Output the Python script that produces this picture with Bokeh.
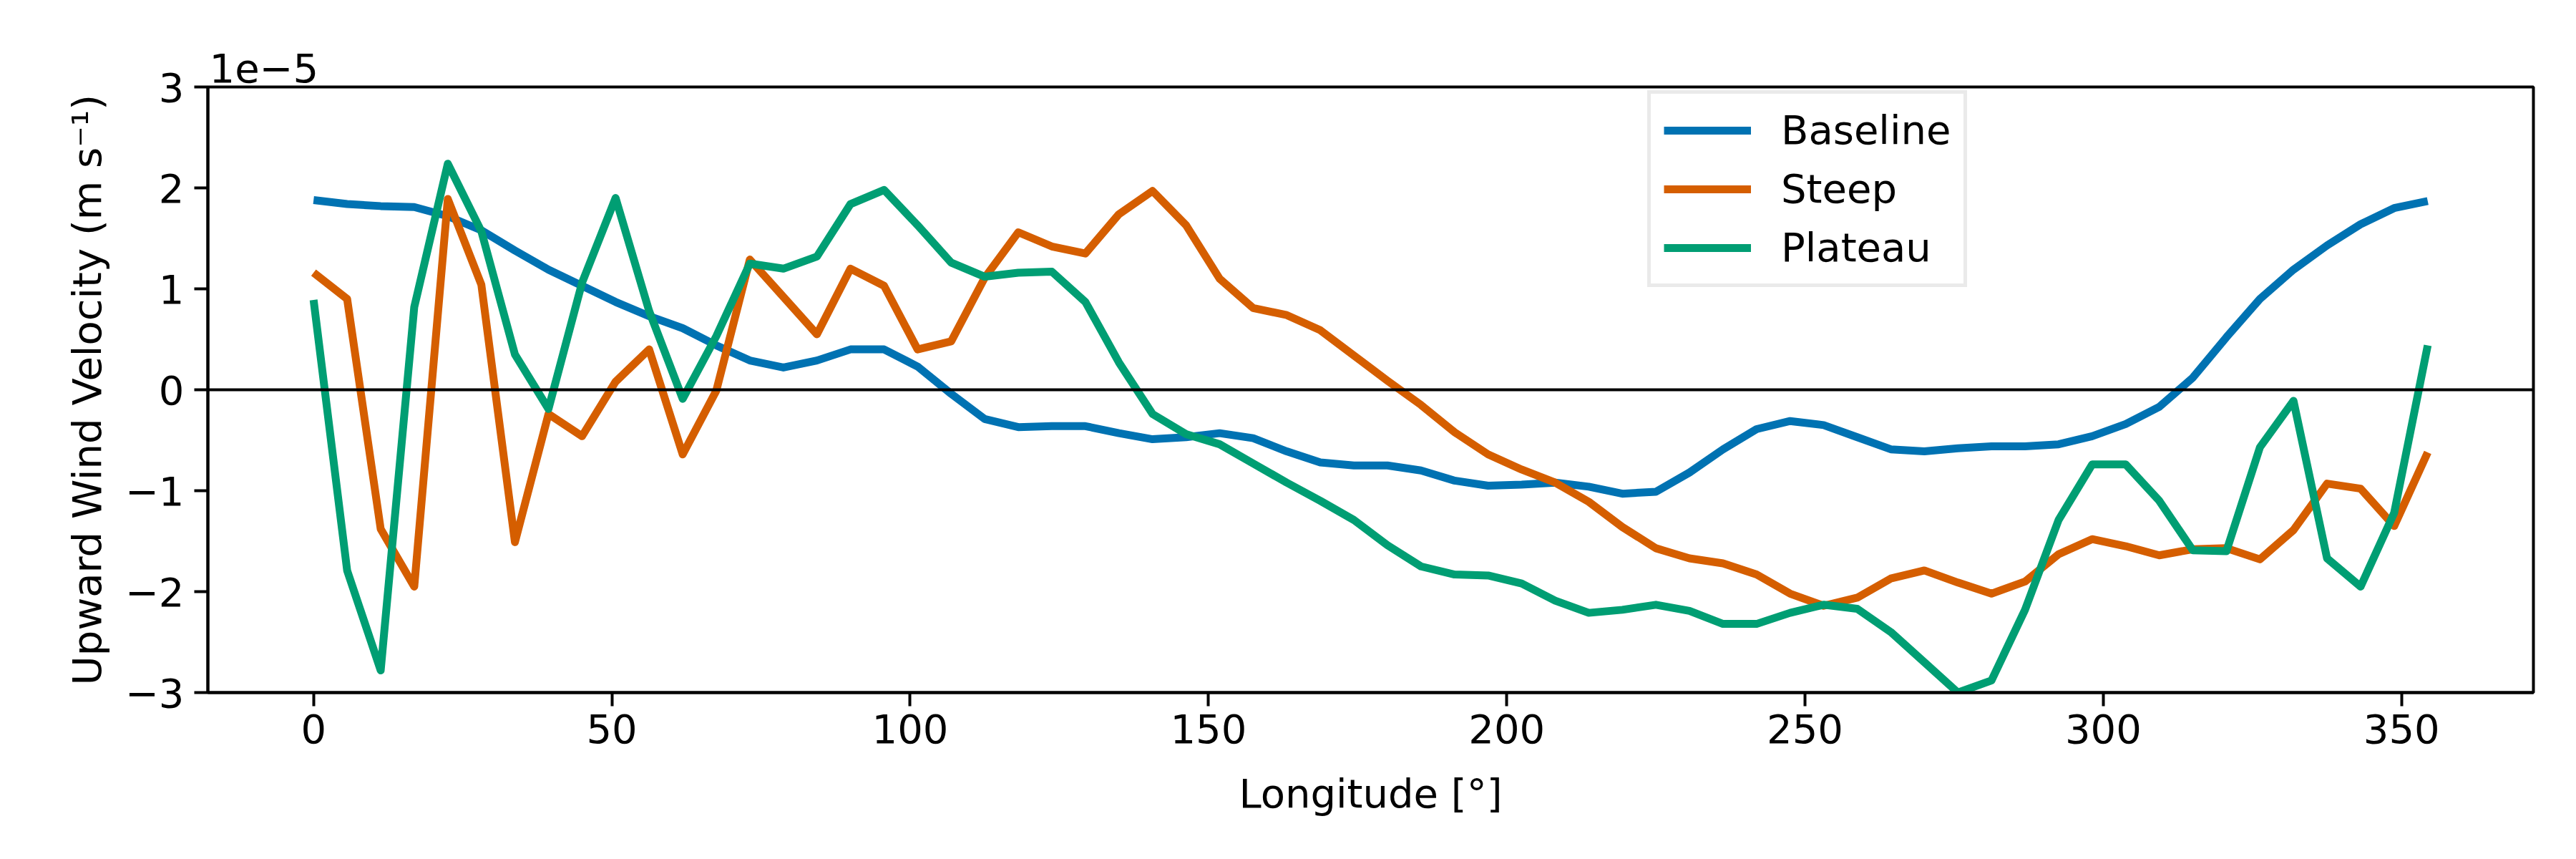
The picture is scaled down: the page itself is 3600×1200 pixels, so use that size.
from bokeh.plotting import figure
from bokeh.models import Range1d, FixedTicker, Span, Legend, LegendItem
from bokeh.embed import file_html
from bokeh.resources import INLINE

# ---------------- data (values in units of 1e-5 m s^-1) ----------------
longitude = [0.0, 5.625, 11.25, 16.875, 22.5, 28.125, 33.75, 39.375, 45.0, 50.625,
             56.25, 61.875, 67.5, 73.125, 78.75, 84.375, 90.0, 95.625, 101.25, 106.875,
             112.5, 118.125, 123.75, 129.375, 135.0, 140.625, 146.25, 151.875, 157.5, 163.125,
             168.75, 174.375, 180.0, 185.625, 191.25, 196.875, 202.5, 208.125, 213.75, 219.375,
             225.0, 230.625, 236.25, 241.875, 247.5, 253.125, 258.75, 264.375, 270.0, 275.625,
             281.25, 286.875, 292.5, 298.125, 303.75, 309.375, 315.0, 320.625, 326.25, 331.875,
             337.5, 343.125, 348.75, 354.375]

baseline = [1.88, 1.84, 1.82, 1.81, 1.72, 1.58, 1.38, 1.19, 1.03, 0.87,
            0.73, 0.61, 0.44, 0.29, 0.22, 0.29, 0.40, 0.40, 0.23, -0.04,
            -0.29, -0.37, -0.36, -0.36, -0.43, -0.49, -0.47, -0.43, -0.48, -0.61,
            -0.72, -0.75, -0.75, -0.80, -0.90, -0.95, -0.94, -0.92, -0.96, -1.03,
            -1.01, -0.82, -0.59, -0.39, -0.31, -0.35, -0.47, -0.59, -0.61, -0.58,
            -0.56, -0.56, -0.54, -0.46, -0.34, -0.17, 0.12, 0.52, 0.90, 1.19,
            1.43, 1.64, 1.80, 1.87]

steep = [1.16, 0.90, -1.38, -1.95, 1.89, 1.04, -1.51, -0.24, -0.46, 0.08,
         0.40, -0.64, -0.01, 1.29, 0.92, 0.55, 1.20, 1.03, 0.40, 0.48,
         1.11, 1.56, 1.42, 1.35, 1.74, 1.97, 1.63, 1.10, 0.81, 0.74,
         0.59, 0.34, 0.09, -0.15, -0.42, -0.64, -0.79, -0.92, -1.11, -1.36,
         -1.57, -1.67, -1.72, -1.83, -2.02, -2.14, -2.06, -1.87, -1.79, -1.91,
         -2.02, -1.90, -1.63, -1.48, -1.55, -1.64, -1.58, -1.57, -1.68, -1.39,
         -0.93, -0.98, -1.35, -0.62]

plateau = [0.89, -1.79, -2.78, 0.82, 2.24, 1.57, 0.35, -0.19, 1.06, 1.90,
           0.78, -0.09, 0.53, 1.25, 1.20, 1.32, 1.84, 1.98, 1.63, 1.26,
           1.12, 1.16, 1.17, 0.87, 0.27, -0.24, -0.44, -0.54, -0.73, -0.92,
           -1.10, -1.29, -1.54, -1.75, -1.83, -1.84, -1.92, -2.09, -2.21, -2.18,
           -2.13, -2.19, -2.32, -2.32, -2.21, -2.13, -2.17, -2.40, -2.70, -3.00,
           -2.88, -2.18, -1.29, -0.74, -0.74, -1.10, -1.59, -1.60, -0.57, -0.11,
           -1.67, -1.95, -1.22, 0.44]

series_names = ["Baseline", "Steep", "Plateau"]
series_colors = ["#0072B2", "#D55E00", "#009E73"]

x_ticks = [0, 50, 100, 150, 200, 250, 300, 350]
y_ticks = [-3, -2, -1, 0, 1, 2, 3]
y_tick_labels = ["\u22123", "\u22122", "\u22121", "0", "1", "2", "3"]
offset_text = "1e\u22125"
x_label = "Longitude [\u00b0]"
y_label = "Upward Wind Velocity (m s\u207b\u00b9)"

# ---------------- figure ----------------
FONT = "DejaVu Sans"
FS = "56px"

x_lo, x_hi = min(longitude), max(longitude)
pad = 0.05 * (x_hi - x_lo)

p = figure(width=3584, height=1184, output_backend="svg", toolbar_location=None,
           x_range=Range1d(x_lo - pad, x_hi + pad), y_range=Range1d(-3, 3),
           min_border_left=290, min_border_right=44, min_border_top=121,
           min_border_bottom=217)
p.background_fill_color = "white"
p.border_fill_color = "white"
p.xgrid.visible = False
p.ygrid.visible = False
p.outline_line_color = "black"
p.outline_line_width = 4
p.outline_line_alpha = 1.0

# offset text "1e-5" drawn as a left-aligned title above the frame
p.title.text = offset_text
p.title.align = "left"
p.title.text_font = FONT
p.title.text_font_size = FS
p.title.text_font_style = "normal"
p.title.text_color = "black"
p.title.standoff = 14
p.title.offset = 2

for ax in (p.xaxis[0], p.yaxis[0]):
    ax.axis_line_color = "black"
    ax.axis_line_width = 4
    ax.major_tick_line_color = "black"
    ax.major_tick_line_width = 4
    ax.major_tick_out = 19
    ax.major_tick_in = 0
    ax.minor_tick_line_color = None
    ax.major_label_text_font = FONT
    ax.major_label_text_font_size = FS
    ax.major_label_text_color = "black"
    ax.axis_label_text_font = FONT
    ax.axis_label_text_font_size = FS
    ax.axis_label_text_font_style = "normal"
    ax.axis_label_text_color = "black"

p.xaxis[0].ticker = FixedTicker(ticks=x_ticks)
p.yaxis[0].ticker = FixedTicker(ticks=y_ticks)
p.yaxis[0].major_label_overrides = {t: s for t, s in zip(y_ticks, y_tick_labels)}
p.xaxis[0].axis_label = x_label
p.yaxis[0].axis_label = y_label
p.xaxis[0].major_label_standoff = 11
p.yaxis[0].major_label_standoff = 14
p.xaxis[0].axis_label_standoff = 35
p.yaxis[0].axis_label_standoff = 18

p.add_layout(Span(location=0, dimension="width", line_color="black", line_width=4))

renderers = []
for name, vals, col in zip(series_names, [baseline, steep, plateau], series_colors):
    r = p.line(longitude, vals, line_color=col, line_width=11, line_join="round")
    renderers.append(r)

legend = Legend(items=[LegendItem(label=n, renderers=[r]) for n, r in zip(series_names, renderers)],
                location=(2012, 566),
                label_text_font=FONT, label_text_font_size=FS, label_text_color="black",
                glyph_width=122, glyph_height=56, label_height=56, label_width=237,
                label_standoff=42, spacing=17, padding=18, margin=0,
                border_line_color="#d6d6d6", border_line_width=5,
                background_fill_color="white", background_fill_alpha=0.8)
p.add_layout(legend)

open("out.html", "w").write(file_html(p, INLINE))
